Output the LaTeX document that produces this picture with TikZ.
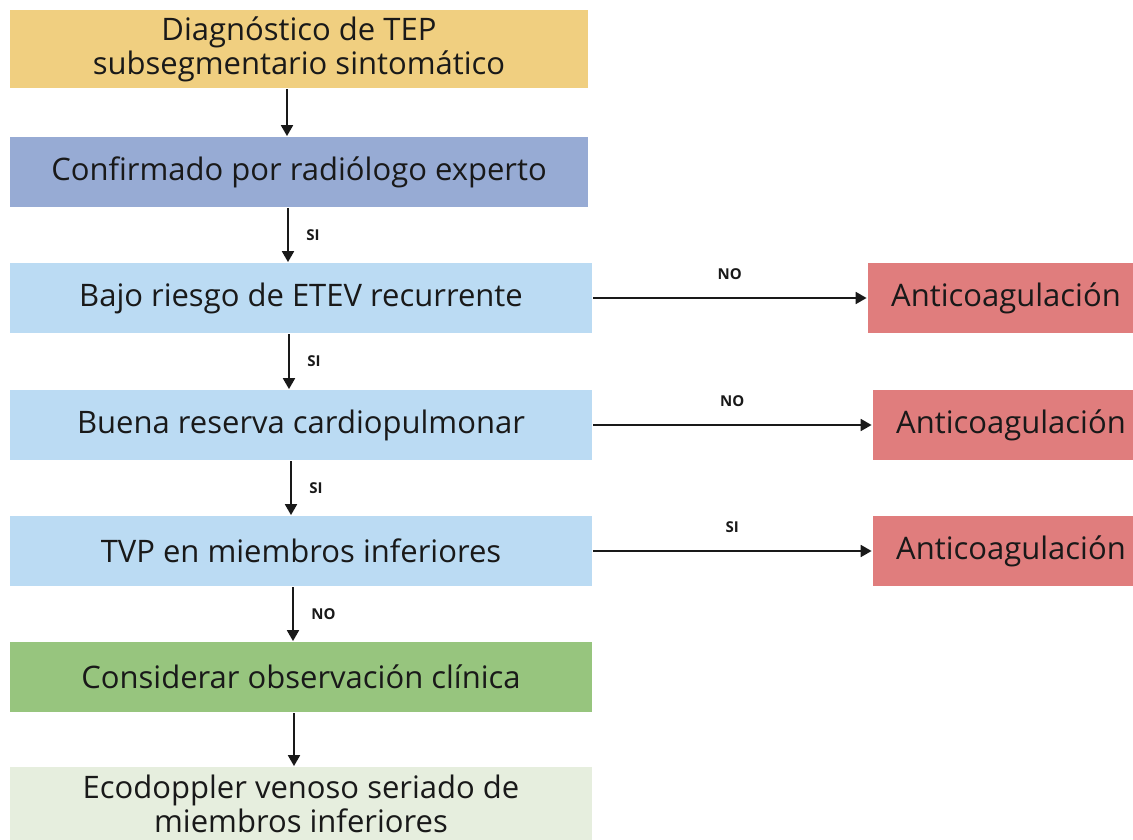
\documentclass[tikz,border=0pt]{standalone}
\usepackage{fontspec}
\setmainfont{Open Sans}
\usepackage{tikz}
\usetikzlibrary{arrows}
\definecolor{amarillo}{HTML}{F0CF80}
\definecolor{azul}{HTML}{97ABD4}
\definecolor{celeste}{HTML}{BBDBF3}
\definecolor{verde}{HTML}{97C57E}
\definecolor{verdeclaro}{HTML}{E6EEDE}
\definecolor{rojo}{HTML}{E07D7D}
\tikzstyle{paso}=[rectangle,inner sep=0mm,minimum height=70pt,align=center,font=\fontsize{31}{34}\selectfont]
\tikzstyle{decision}=[paso,fill=celeste,minimum width=582pt]
\tikzstyle{accion}=[paso,fill=rojo,minimum width=277pt]
\tikzstyle{resp}=[font=\fontsize{15}{17}\selectfont\bfseries]
\tikzstyle{arrow}=[->,>=triangle 60]
\tikzset{every picture/.style={
    line width=2pt
  }
}
\begin{document}
\begin{tikzpicture}[x=1pt,y=-1pt,color=black!90]
    \useasboundingbox (0,0) rectangle (1133,840);
    \node[paso,fill=amarillo,minimum width=578pt,minimum height=78pt] at (299,49) (diag) {Diagnóstico de TEP\\subsegmentario sintomático};
    \node[paso,fill=azul,minimum width=578pt] at (299,172) (conf) {Confirmado por radiólogo experto};
    \node[decision] at (301,298) (riesgo) {Bajo riesgo de ETEV recurrente};
    \node[decision] at (301,425) (reserva) {Buena reserva cardiopulmonar};
    \node[decision] at (301,551) (tvp) {TVP en miembros inferiores};
    \node[paso,fill=verde,minimum width=582pt] at (301,677) (obs) {Considerar observación clínica};
    \node[paso,fill=verdeclaro,minimum width=582pt,minimum height=74pt] at (301,804) (eco) {Ecodoppler venoso seriado de\\miembros inferiores};
    \node[accion] at (1006,298) (anti1) {Anticoagulación};
    \node[accion] at (1011,425) (anti2) {Anticoagulación};
    \node[accion] at (1011,551) (anti3) {Anticoagulación};
    \draw[arrow] ([xshift=-12pt]diag.south) -- ([xshift=-12pt]conf.north);
    \draw[arrow] ([xshift=-11pt]conf.south) -- node[resp,right=14pt] {SI} ([xshift=-13pt]riesgo.north);
    \draw[arrow] ([xshift=-12pt]riesgo.south) -- node[resp,right=14pt] {SI} ([xshift=-12pt]reserva.north);
    \draw[arrow] ([xshift=-10pt]reserva.south) -- node[resp,right=14pt] {SI} ([xshift=-10pt]tvp.north);
    \draw[arrow] ([xshift=-8pt]tvp.south) -- node[resp,right=14pt] {NO} ([xshift=-8pt]obs.north);
    \draw[arrow] ([xshift=-7pt]obs.south) -- ([xshift=-7pt]eco.north);
    \draw[arrow] (riesgo.east) -- node[resp,above=14pt] {NO} (anti1.west);
    \draw[arrow] (reserva.east) -- node[resp,above=14pt] {NO} (anti2.west);
    \draw[arrow] (tvp.east) -- node[resp,above=14pt] {SI} (anti3.west);
  \end{tikzpicture}
\end{document}
